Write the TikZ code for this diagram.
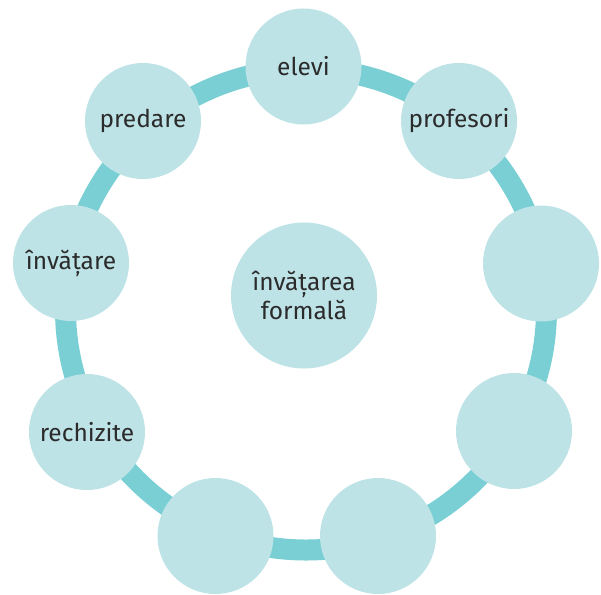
\documentclass[tikz,border=0pt]{standalone}
\usepackage{fontspec}
\setmainfont{Fira Sans}
\definecolor{ringc}{HTML}{79CFD4}
\definecolor{fillc}{HTML}{BEE3E7}
\definecolor{txtc}{HTML}{2B2B2B}
\begin{document}
\begin{tikzpicture}[x=1pt,y=-1pt,
  bubble/.style={circle,fill=fillc,minimum size=116pt,inner sep=0pt,text=txtc,
    font=\fontsize{24.5}{28.5}\selectfont,align=center},
  hub/.style={bubble,minimum size=146pt},
  ring/.style={draw=ringc,line width=21pt}]
\useasboundingbox (0,0) rectangle (601,594);
\coordinate (rc) at (306,309.5);
\draw[ring] (rc) circle[radius=240.5];
\node[bubble] (elevi) at (303.5,66.5) {elevi};
\node[bubble] (profesori) at (459,121) {profesori};
\node[bubble] (r1) at (541,263.5) {};
\node[bubble] (r2) at (514,431) {};
\node[bubble] (b1) at (378,536) {};
\node[bubble] (b2) at (215.5,536) {};
\node[bubble] (rechizite) at (87,432) {rechizite};
\node[bubble] (invatare) at (71,263) {învățare};
\node[bubble] (predare) at (143,121) {predare};
\node[hub] (center) at (304,295.5) {învățarea\\formală};
\end{tikzpicture}
\end{document}
